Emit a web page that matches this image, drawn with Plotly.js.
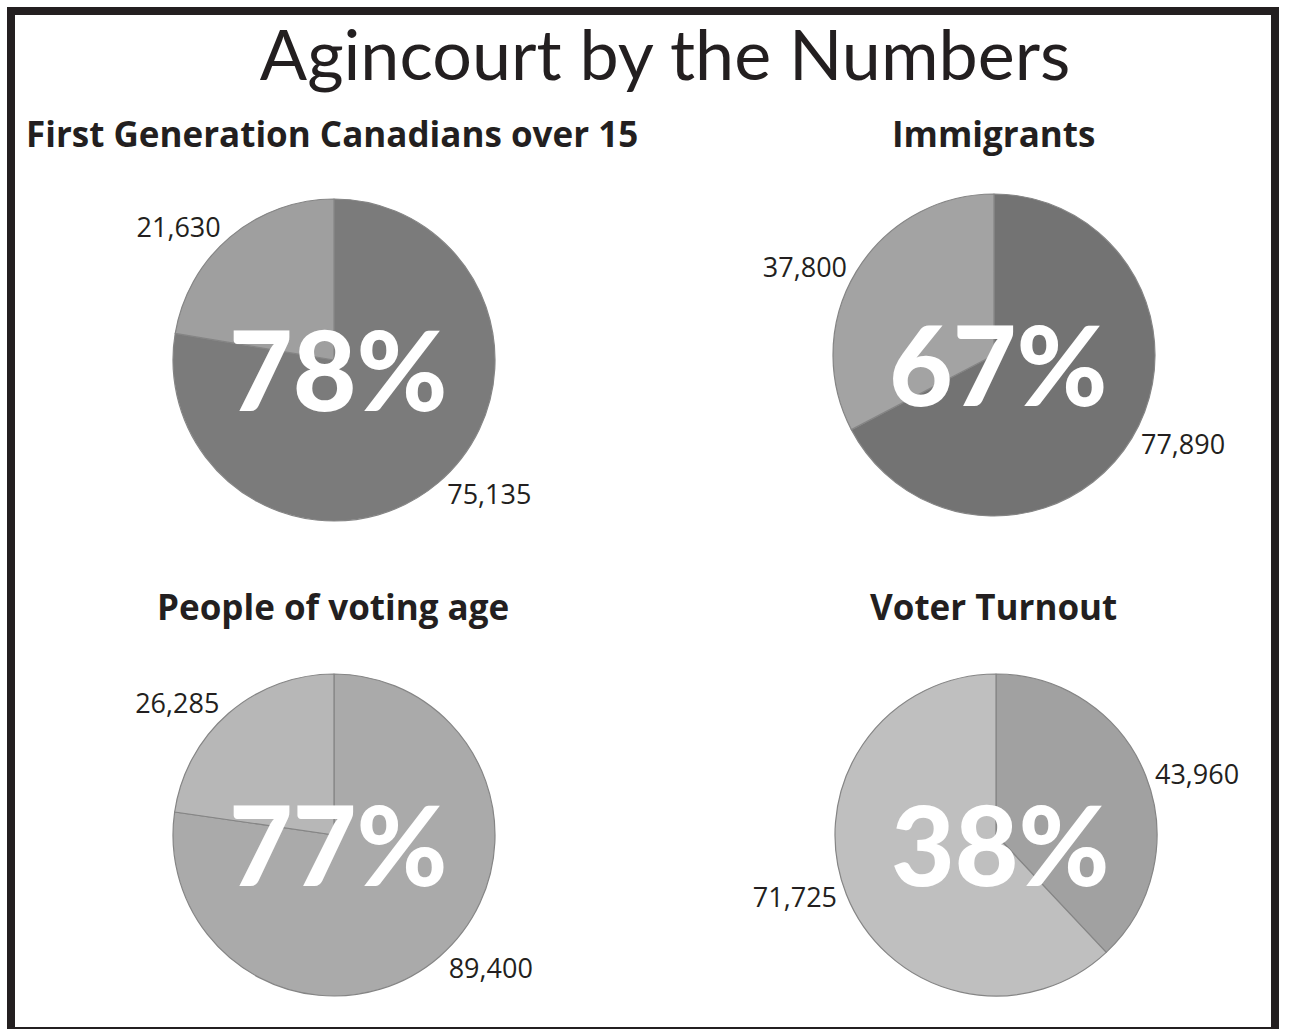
<!DOCTYPE html>
<html>
<head>
<meta charset="utf-8">
<script src="https://cdn.plot.ly/plotly-3.0.1.min.js"></script>
<style>
  html, body { margin: 0; padding: 0; background: #ffffff; }
  #chart { width: 1290px; height: 1029px; }
</style>
</head>
<body>
<div id="chart"></div>
<script>
// ---- data ----
const chartTitle = 'Agincourt by the Numbers';
const pieTitles = ['First Generation Canadians over 15', 'Immigrants', 'People of voting age', 'Voter Turnout'];
const highlightValues = [75135, 77890, 89400, 43960];   // slice measured by the big percentage
const otherValues = [21630, 37800, 26285, 71725];
const highlightColors = ['#7b7b7b', '#737373', '#aaaaaa', '#a1a1a1'];
const otherColors = ['#9f9f9f', '#a3a3a3', '#b7b7b7', '#bfbfbf'];

// ---- layout geometry (pixels) ----
const W = 1290, H = 1029;
const centers = [[334, 360], [994, 355], [334, 835], [996, 835]];
const R = 161;
const titleY = [134, 134, 606, 606];
const titleX = [332, 993, 333, 994];

const px = x => x / W;
const py = y => 1 - y / H;

const traces = [];
const annotations = [];
for (let i = 0; i < 4; i++) {
  const [cx, cy] = centers[i];
  traces.push({
    type: 'pie',
    values: [highlightValues[i], otherValues[i]],
    labels: ['a' + i, 'b' + i],
    sort: false,
    direction: 'clockwise',
    rotation: 0,
    domain: { x: [px(cx - R), px(cx + R)], y: [py(cy + R), py(cy - R)] },
    marker: {
      colors: [highlightColors[i], otherColors[i]],
      line: { color: '#858585', width: 1.2 }
    },
    textposition: 'outside',
    texttemplate: '%{value:,}',
    outsidetextfont: { family: '"Open Sans", sans-serif', size: 27, color: '#231f20' },
    hoverinfo: 'skip',
    showlegend: false,
    automargin: false
  });
  const pct = Math.round(100 * highlightValues[i] / (highlightValues[i] + otherValues[i]));
  annotations.push({
    xref: 'paper', yref: 'paper',
    x: px(cx + 4), y: py(cy + 8),
    xanchor: 'center', yanchor: 'middle',
    text: pct + '%',
    showarrow: false,
    font: { family: 'Lato, sans-serif', size: 110, color: '#ffffff', weight: 900 }
  });
  annotations.push({
    xref: 'paper', yref: 'paper',
    x: px(titleX[i]), y: py(titleY[i]),
    xanchor: 'center', yanchor: 'middle',
    text: pieTitles[i],
    showarrow: false,
    font: { family: '"Open Sans", sans-serif', size: 35, color: '#231f20', weight: 700 }
  });
}

const layout = {
  width: W, height: H,
  margin: { l: 0, r: 0, t: 0, b: 0 },
  paper_bgcolor: '#ffffff',
  title: {
    text: chartTitle,
    x: px(665), xanchor: 'center',
    y: py(55), yanchor: 'middle',
    font: { family: 'Lato, sans-serif', size: 70, color: '#231f20' }
  },
  annotations: annotations,
  shapes: [{
    type: 'rect', xref: 'paper', yref: 'paper',
    x0: px(11), x1: px(1275), y0: py(1031), y1: py(11),
    line: { color: '#231f20', width: 8 },
    fillcolor: 'rgba(0,0,0,0)'
  }]
};

Plotly.newPlot('chart', traces, layout, { staticPlot: true, displayModeBar: false });
</script>
</body>
</html>
